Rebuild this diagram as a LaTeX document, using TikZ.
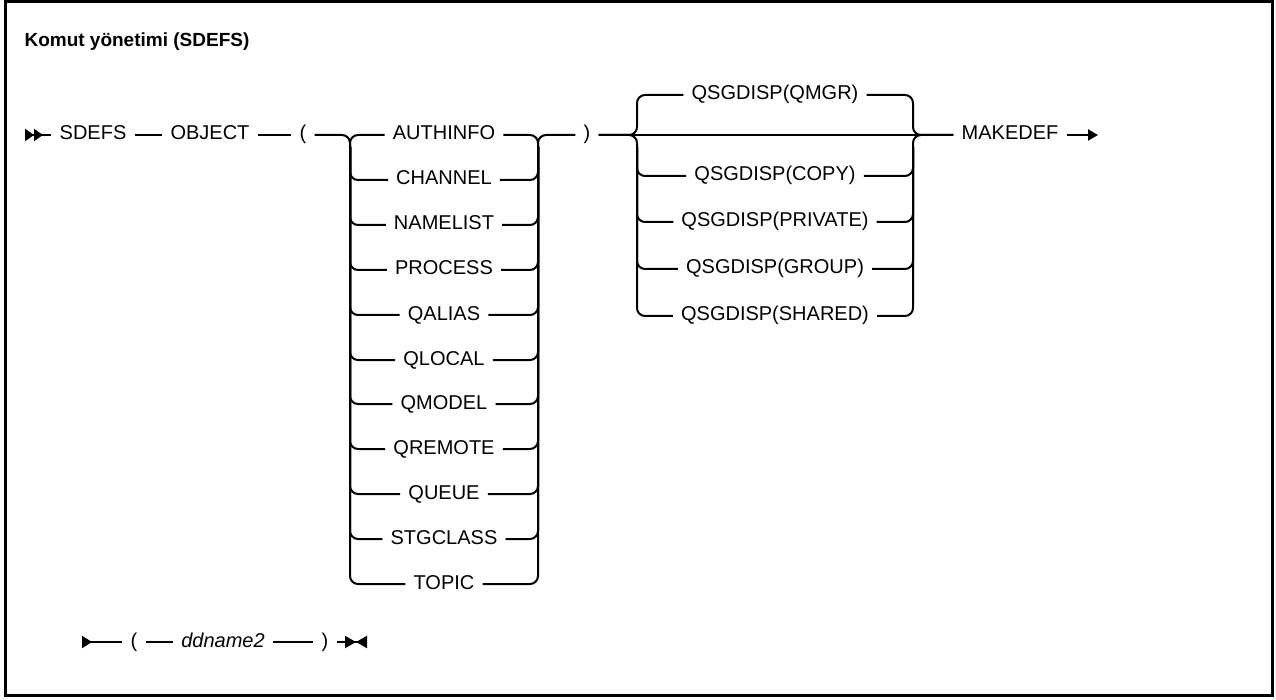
\documentclass[tikz,border=0pt]{standalone}
\usepackage{fontspec}
\setmainfont{Liberation Sans}
\usetikzlibrary{positioning,arrows.meta}

\begin{document}
\begin{tikzpicture}[
  x=1pt, y=-1pt,
  font=\fontsize{20}{24}\selectfont,
  kw/.style={inner xsep=8pt, inner ysep=0pt, text height=14pt, text depth=4pt},
  rail/.style={line width=2pt, rounded corners=8pt},
  frame/.style={line width=2.5pt},
  begtip/.style={{Triangle[reversed,length=9pt,width=12pt]Triangle[reversed,length=9pt,width=12pt]}-},
  endtip/.style={-{Triangle[length=10pt,width=11pt]}},
  bodytip/.style={{Triangle[reversed,length=10pt,width=12pt]}-},
  stoptip/.style={-{Triangle[length=11pt,width=12pt]Triangle[reversed,length=11pt,width=12pt]}},
  ]
  \useasboundingbox (0,0) rectangle (1276,700);
  \draw[frame] (5.5,1.5) rectangle (1272.5,695.5);

  \node[anchor=base west, font=\bfseries\fontsize{19}{23}\selectfont] (title) at (21,47) {Komut yönetimi (SDEFS)};

  % Main line
  \coordinate (start) at (25,135);
  \node[kw] (sdefs) at (93,135)   {SDEFS};
  \node[kw] (obj)   at (210,135)  {OBJECT};
  \node[kw] (lpar)  at (303,135)  {(};
  \node[kw] (rpar)  at (587,135)  {)};
  \node[kw] (mkdef) at (1010,135) {MAKEDEF};
  \coordinate (end) at (1098,135);

  % Object types
  \node[kw] (authinfo) at (444,135) {AUTHINFO};
  \node[kw] (channel)  at (444,180) {CHANNEL};
  \node[kw] (namelist) at (444,225) {NAMELIST};
  \node[kw] (process)  at (444,270) {PROCESS};
  \node[kw] (qalias)   at (444,315) {QALIAS};
  \node[kw] (qlocal)   at (444,360) {QLOCAL};
  \node[kw] (qmodel)   at (444,404) {QMODEL};
  \node[kw] (qremote)  at (444,449) {QREMOTE};
  \node[kw] (queue)    at (444,494) {QUEUE};
  \node[kw] (stgclass) at (444,539) {STGCLASS};
  \node[kw] (topic)    at (444,584) {TOPIC};
  \coordinate (objin)   at (350,135);
  \coordinate (objtop)  at (350,147);
  \coordinate (objout)  at (538,135);
  \coordinate (objrtop) at (538,147);

  % QSGDISP choices
  \node[kw] (qmgr)    at (775,95)  {QSGDISP(QMGR)};
  \node[kw] (copy)    at (775,176) {QSGDISP(COPY)};
  \node[kw] (private) at (775,222) {QSGDISP(PRIVATE)};
  \node[kw] (group)   at (775,269) {QSGDISP(GROUP)};
  \node[kw] (shared)  at (775,316) {QSGDISP(SHARED)};
  \coordinate (qin)   at (637,135);
  \coordinate (qtop)  at (637,147);
  \coordinate (qout)  at (913,135);
  \coordinate (qrtop) at (913,147);

  % Main line rails
  \draw[rail, begtip] (start) -- (sdefs.west);
  \draw[rail] (sdefs.east) -- (obj.west);
  \draw[rail] (obj.east) -- (lpar.west);
  \draw[rail, endtip] (mkdef.east) -- (end);

  % Object branches
  \draw[rail] (lpar.east) -- (objin) |- (topic.west);
  \draw[rail] (objtop) |- (authinfo.west);
  \draw[rail] (objtop) |- (channel.west);
  \draw[rail] (objtop) |- (namelist.west);
  \draw[rail] (objtop) |- (process.west);
  \draw[rail] (objtop) |- (qalias.west);
  \draw[rail] (objtop) |- (qlocal.west);
  \draw[rail] (objtop) |- (qmodel.west);
  \draw[rail] (objtop) |- (qremote.west);
  \draw[rail] (objtop) |- (queue.west);
  \draw[rail] (objtop) |- (stgclass.west);
  \draw[rail] (authinfo.east) -| (objrtop);
  \draw[rail] (channel.east) -| (objrtop);
  \draw[rail] (namelist.east) -| (objrtop);
  \draw[rail] (process.east) -| (objrtop);
  \draw[rail] (qalias.east) -| (objrtop);
  \draw[rail] (qlocal.east) -| (objrtop);
  \draw[rail] (qmodel.east) -| (objrtop);
  \draw[rail] (qremote.east) -| (objrtop);
  \draw[rail] (queue.east) -| (objrtop);
  \draw[rail] (stgclass.east) -| (objrtop);
  \draw[rail] (topic.east) -| (objrtop);
  \draw[rail] (objrtop) |- (rpar.west);

  % QSGDISP branches
  \draw[rail] (rpar.east) -- (mkdef.west);
  \draw[rail] (rpar.east) -- (qin) |- (qmgr.west);
  \draw[rail] (rpar.east) -- (qin) |- (shared.west);
  \draw[rail] (qtop) |- (copy.west);
  \draw[rail] (qtop) |- (private.west);
  \draw[rail] (qtop) |- (group.west);
  \draw[rail] (qmgr.east) -| (qout) -- (mkdef.west);
  \draw[rail] (shared.east) -| (qout) -- (mkdef.west);
  \draw[rail] (copy.east) -| (qrtop);
  \draw[rail] (private.east) -| (qrtop);
  \draw[rail] (group.east) -| (qrtop);

  % Fragment
  \coordinate (bstart) at (82,642);
  \node[kw] (blpar) at (134,642) {(};
  \node[kw, font=\itshape\fontsize{20}{24}\selectfont] (ddname) at (223,642) {ddname2};
  \node[kw] (brpar) at (325,642) {)};
  \coordinate (bend) at (367,642);
  \draw[rail, bodytip] (bstart) -- (blpar.west);
  \draw[rail] (blpar.east) -- (ddname.west);
  \draw[rail] (ddname.east) -- (brpar.west);
  \draw[rail, stoptip] (brpar.east) -- (bend);
\end{tikzpicture}
\end{document}
